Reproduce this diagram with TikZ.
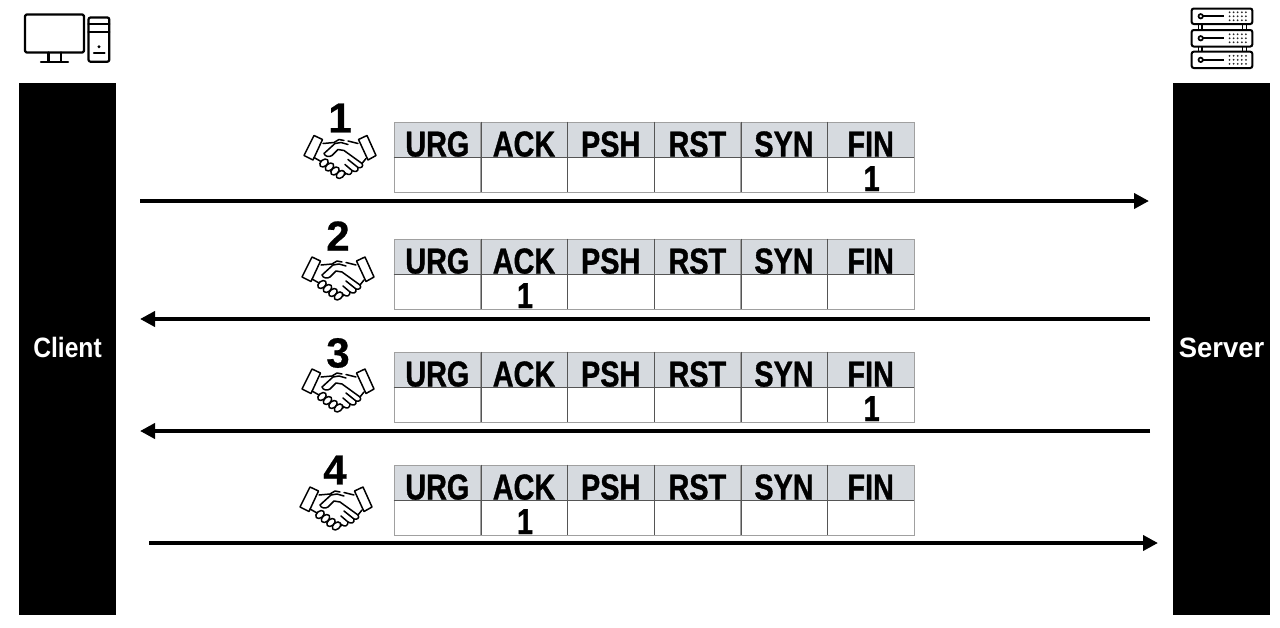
\documentclass[tikz,border=0pt]{standalone}
\usepackage{fontspec}
\setmainfont[BoldFeatures={FakeBold=0.6}]{Liberation Sans}
\newfontfamily\flagfont[BoldFeatures={FakeStretch=0.80,FakeBold=1.0}]{Liberation Sans}
\newfontfamily\clientfont[BoldFeatures={FakeStretch=0.88}]{Liberation Sans}
\newfontfamily\serverfont[BoldFeatures={FakeStretch=0.98}]{Liberation Sans}
\usetikzlibrary{arrows.meta}
\definecolor{headfill}{HTML}{D6DADF}
\definecolor{cellline}{HTML}{A0A0A0}
\definecolor{innerline}{HTML}{555555}
\tikzset{
  x=1pt,y=-1pt,
  endbox/.style={fill=black,draw=none,minimum width=97pt,minimum height=532pt,inner sep=0,text=white},
  headcell/.style={draw=cellline,line width=0.9pt,fill=headfill,minimum width=86.7pt,minimum height=35pt,inner sep=0,font=\flagfont\fontsize{36}{36}\selectfont\bfseries,text=black},
  valcell/.style={draw=cellline,line width=0.9pt,fill=white,minimum width=86.7pt,minimum height=35pt,inner sep=0},
  flagval/.style={inner sep=0,font=\flagfont\fontsize{36}{36}\selectfont\bfseries},
  stepnum/.style={inner sep=0,font=\fontsize{42}{42}\selectfont\bfseries},
  flow/.style={line width=3.8pt,-{Stealth[length=15pt,width=15pt,inset=0pt]}},
  ico/.style={line width=2.2pt,line join=round,line cap=round,draw=black},
  hand/.style={line width=1.5pt,line join=round,line cap=round,draw=black},
  divider/.style={line width=1pt,draw=innerline},
  pics/shake/.style={code={
    \draw[hand] (-26,-21)--(-17.5,-17)--(-27,3.5)--(-36,-1)--cycle;
    \draw[hand] (27,-21)--(18.5,-17)--(28,3.5)--(36,-1)--cycle;
    \draw[hand] (-17,-13)--(-6,-14)--(-1,-17)--(4,-16);
    \draw[hand] (18,-13)--(8,-15.5);
    \draw[hand] (8,-12)--(1,-14)--(-5,-13)--(-16,-3)
       .. controls (-15,0) and (-11,1) .. (-8,-1)--(-2,-7)--(4,-6)--(22,7)
       .. controls (24,10) and (21,12) .. (18,11)--(8,3);
    \draw[hand] (18,11) .. controls (19,15) and (15,16) .. (12,14)--(5,8);
    \draw[hand] (12,14) .. controls (12,18) and (9,19) .. (6,17)--(2,14);
    \draw[hand] (22,7)--(26,2);
    \draw[hand] (-26,1)--(-19,5);
    \draw[hand] (6,17)--(2,20);
    \foreach \fx/\fy in {-16/6.5,-10.5/10.5,-5/14.5,0.5/18}
      \draw[hand,fill=white,rotate around={-50:(\fx,\fy)}] (\fx,\fy) ellipse (3.3 and 4.8);
  }},
}
\newcommand{\flagrow}[3]{%
  % #1 id, #2 top y, #3 value column
  \foreach \lab [count=\c] in {URG,ACK,PSH,RST,SYN,FIN}{
    \node[headcell] (#1h\c) at ({394+86.67*(\c-1)+43.33},{#2+17.5}) {\raisebox{-17pt}[0pt][0pt]{\lab}};
    \node[valcell] (#1v\c) at ({394+86.67*(\c-1)+43.33},{#2+52.5}) {};
  }
  \draw[divider] (#1h1.south west)--(#1h6.south east);
  \foreach \c in {1,...,5}
    \draw[divider] (#1h\c.north east)--(#1v\c.south east);
  \node[flagval,anchor=base] (#1one) at ({394+86.67*(#3-1)+44.33},{#2+69}) {1};
}
\begin{document}
\begin{tikzpicture}
\useasboundingbox (0,0) rectangle (1280,627);
\fill[white] (0,0) rectangle (1280,627);

\node[endbox,font=\clientfont\fontsize{28}{28}\selectfont\bfseries] (client) at (67.5,349) {\raisebox{-8.3pt}[0pt][0pt]{Client}};
\node[endbox,font=\serverfont\fontsize{28}{28}\selectfont\bfseries] (server) at (1221.5,349) {\raisebox{-8.3pt}[0pt][0pt]{Server}};

% computer icon
\draw[ico,rounded corners=1.5pt] (25,14.5) rectangle (84,52.5);
\draw[ico] (48.5,52.5)--(48.5,61.7) (61,52.5)--(61,61.7) (41,61.7)--(68,61.7);
\draw[ico,rounded corners=2pt] (88.5,17.5) rectangle (109.3,61.7);
\draw[ico] (88.5,24)--(109.3,24) (88.5,32.3)--(109.3,32.3) (94,53.3)--(104.5,53.3);
\fill (99,46.7) circle (1.6);

% server icon
\foreach \ya/\yb in {8.5/24,30/46.5,51.7/68}{
  \draw[line width=2pt,rounded corners=2pt] (1191.7,\ya) rectangle (1252.3,\yb);
  \draw[line width=1.7pt] (1200.7,{(\ya+\yb)/2}) circle (2.2);
  \draw[line width=1.6pt] (1203,{(\ya+\yb)/2})--(1224,{(\ya+\yb)/2});
  \foreach \dy in {-4,0,4} \foreach \dx in {0,1,2,3,4}
    \fill[black!85] ({1229.5+4.1*\dx},{(\ya+\yb)/2+\dy}) circle (1);
}
\foreach \xx in {1198.3,1202,1242.7,1246.4}
  \draw[line width=1.5pt] (\xx,24)--(\xx,30) (\xx,46.5)--(\xx,51.7);

% step 1
\node[stepnum] (n1) at (340,118) {1};
\pic at (340,156.5) {shake};
\flagrow{a}{122}{6}
\coordinate (a1s) at (140,201); \coordinate (a1e) at (1149,201);
\draw[flow] (a1s)--(a1e);

% step 2
\node[stepnum] (n2) at (338,236) {2};
\pic at (338,278) {shake};
\flagrow{b}{239}{2}
\coordinate (a2s) at (1150,319); \coordinate (a2e) at (140,319);
\draw[flow] (a2s)--(a2e);

% step 3
\node[stepnum] (n3) at (338,353) {3};
\pic at (338,390) {shake};
\flagrow{c}{352}{6}
\coordinate (a3s) at (1150,431); \coordinate (a3e) at (140,431);
\draw[flow] (a3s)--(a3e);

% step 4
\node[stepnum] (n4) at (335,470) {4};
\pic at (336,508) {shake};
\flagrow{d}{465}{2}
\coordinate (a4s) at (149,543); \coordinate (a4e) at (1158,543);
\draw[flow] (a4s)--(a4e);
\end{tikzpicture}
\end{document}
